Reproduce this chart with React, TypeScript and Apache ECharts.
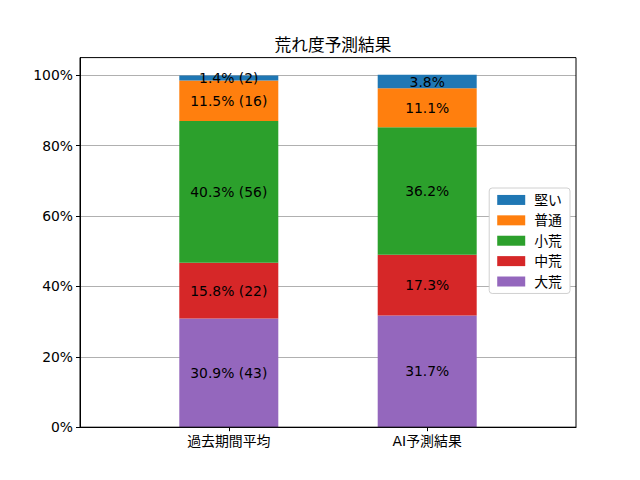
import React, { useEffect, useRef } from "react";
import * as echarts from "echarts";

const categories = ["過去期間平均", "AI予測結果"];
const seriesNames = ["大荒", "中荒", "小荒", "普通", "堅い"];
const colors = ["#9467bd", "#d62728", "#2ca02c", "#ff7f0e", "#1f77b4"];
// percentages per series: [過去期間平均, AI予測結果]
const daiare = [30.9, 31.7];
const chuare = [15.8, 17.3];
const shoare = [40.3, 36.2];
const futsu = [11.5, 11.1];
const katai = [1.4, 3.8];
// counts (only for 過去期間平均)
const daiareCount = [43, null];
const chuareCount = [22, null];
const shoareCount = [56, null];
const futsuCount = [16, null];
const kataiCount = [2, null];
const yTicks = [0, 20, 40, 60, 80, 100];

const FONT = "'DejaVu Sans', 'Noto Sans CJK JP', sans-serif";
const FS = 13.9;

// slots on a category axis (boundaryGap false) so bars sit at x = 0 and 1 of a [-0.75, 1.75] range
const SLOTS = 11;
const POS = [3, 7];

export default function App() {
  const ref = useRef<HTMLDivElement>(null);
  useEffect(() => {
    if (!ref.current) return;
    const chart = echarts.init(ref.current, null, { renderer: "svg" });
    const values = [daiare, chuare, shoare, futsu, katai];
    const counts = [daiareCount, chuareCount, shoareCount, futsuCount, kataiCount];
    const slotCats: string[] = Array.from({ length: SLOTS }, (_, k) => {
      const ci = POS.indexOf(k);
      return ci >= 0 ? categories[ci] : "s" + k;
    });
    const L = 80, T = 57.6, W = 496, H = 369.6;
    const series = seriesNames.map((name, si) => {
      const data: (number | null)[] = Array.from({ length: SLOTS }, () => null);
      values[si].forEach((v, i) => (data[POS[i]] = v));
      return {
        name,
        type: "bar",
        stack: "total",
        barWidth: 99,
        itemStyle: { color: colors[si] },
        label: {
          show: true,
          position: "inside",
          color: "#000",
          fontSize: FS,
          fontFamily: FONT,
          formatter: (p: any) => {
            const i = POS.indexOf(p.dataIndex);
            if (i < 0) return "";
            const c = counts[si][i];
            const v = values[si][i].toFixed(1) + "%";
            return c == null ? v : `${v} (${c})`;
          },
        },
        data,
      };
    });
    const isPos = (idx: number) => POS.indexOf(idx) >= 0;
    chart.setOption({
      animation: false,
      textStyle: { fontFamily: FONT },
      title: {
        text: "荒れ度予測結果",
        left: L + W / 2,
        textAlign: "center",
        top: 32,
        textStyle: { fontSize: 16.7, fontWeight: "normal", color: "#000", fontFamily: FONT },
      },
      grid: { left: L, top: T, width: W, height: H, show: false },
      legend: {
        orient: "vertical",
        right: 70,
        top: 188,
        data: [...seriesNames].reverse(),
        icon: "rect",
        itemWidth: 28,
        itemHeight: 10,
        itemGap: 6.5,
        padding: [5, 8, 5, 8],
        backgroundColor: "#fff",
        borderColor: "#d0d0d0",
        borderWidth: 1,
        borderRadius: 3,
        textStyle: { fontSize: FS, color: "#000", fontFamily: FONT, padding: [0, 0, 0, 4] },
      },
      xAxis: {
        type: "category",
        data: slotCats,
        boundaryGap: false,
        splitLine: { show: false },
        axisLine: { show: true, lineStyle: { color: "#000", width: 1 } },
        axisTick: {
          show: true,
          interval: (idx: number) => isPos(idx),
          length: 4,
          lineStyle: { color: "#000" },
        },
        axisLabel: {
          interval: (idx: number) => isPos(idx),
          color: "#000",
          fontSize: FS,
          margin: 7,
          fontFamily: FONT,
        },
      },
      yAxis: {
        type: "value",
        min: 0,
        max: 105,
        interval: 20,
        axisLine: { show: true, lineStyle: { color: "#000", width: 1 } },
        axisTick: { show: true, customValues: yTicks, length: 4, lineStyle: { color: "#000" } },
        axisLabel: {
          customValues: yTicks,
          formatter: (v: number) => `${v}%`,
          color: "#000",
          fontSize: FS,
          margin: 7,
          fontFamily: FONT,
        },
        splitLine: { show: true, lineStyle: { color: "#b0b0b0", width: 1 } },
      },
      graphic: [
        {
          type: "rect",
          shape: { x: L, y: T, width: W, height: H },
          style: { fill: "none", stroke: "#000", lineWidth: 1 },
          z: 100,
          silent: true,
        },
      ],
      series,
    });
    return () => chart.dispose();
  }, []);
  return (
    <div
      ref={ref}
      style={{ position: "fixed", left: 0, top: 0, width: 640, height: 480, background: "#fff" }}
    />
  );
}
